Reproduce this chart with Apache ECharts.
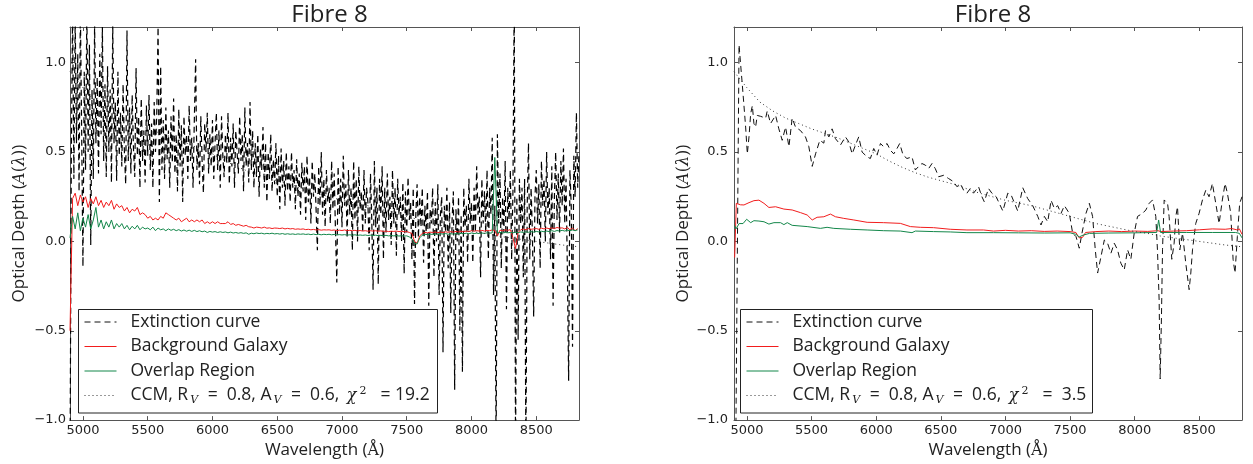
<!DOCTYPE html>
<html><head><meta charset="utf-8">
<script src="https://cdn.jsdelivr.net/npm/echarts@6/dist/echarts.min.js"></script>
<style>html,body{margin:0;padding:0;background:#fff}#c{width:1253px;height:464px}</style>
</head><body><div id="c"></div>
<script>
// ---------- data ----------
const xTicks = [5000, 5500, 6000, 6500, 7000, 7500, 8000, 8500];
const yTicks = [-1, -0.5, 0, 0.5, 1];
const waveMin = 4900, waveMax = 8830;

// left panel: extinction curve sampled every 10 A starting at 4900 A
const leftExtStart = 4900, leftExtStep = 10;
const leftExtinction = [
 -1.3,0.45,1.3,0.35,1.25,0.55,1.05,0.28,1.3,0.62,
 -0.14,0.95,0.4,1.3,0.5,1.1,-0.02,0.85,0.35,1.22,
 0.55,0.92,0.38,1.05,0.6,1.2,0.45,0.88,0.36,0.98,
 0.5,0.85,0.33,1.22,0.55,0.78,0.34,0.95,0.48,0.72,
 0.42,0.88,0.5,0.32,1.18,0.45,0.75,0.38,0.82,0.52,
 0.36,0.97,0.48,0.7,0.3,0.8,0.45,0.62,0.33,0.76,
 0.48,0.82,0.4,0.66,0.3,0.78,0.5,0.72,1.2,0.22,
 0.98,0.4,0.68,0.35,0.75,0.46,0.62,0.3,0.7,0.44,
 0.8,0.38,0.6,0.28,0.74,0.42,0.65,0.22,0.7,0.48,
 0.6,0.35,0.76,0.45,0.58,0.3,0.68,1.02,0.4,0.55,
 0.32,0.7,0.45,0.27,0.66,0.5,0.72,0.38,0.6,0.42,
 0.68,0.35,0.55,0.72,0.4,0.62,0.3,0.7,0.48,0.36,
 0.6,0.44,0.72,0.32,0.58,0.42,0.66,0.3,0.62,0.5,
 0.38,0.7,0.45,0.6,0.28,0.75,0.42,0.55,0.33,0.78,
 0.4,0.62,0.3,0.55,0.36,0.6,0.25,0.52,0.4,0.64,
 0.3,0.55,0.22,0.5,0.35,0.6,0.28,0.46,0.32,0.55,
 0.25,0.48,0.18,0.52,0.3,0.45,0.2,0.5,0.28,0.42,
 0.22,0.5,0.3,0.4,0.18,0.46,0.25,0.38,0.15,0.44,
 0.28,0.42,0.12,0.48,0.22,0.36,0.1,0.45,0.25,0.38,
 0.18,-0.05,0.42,0.2,0.5,0.15,0.35,0.08,0.4,0.22,
 0.3,0.1,0.45,0.18,0.38,0.05,-0.23,0.42,0.15,0.35,
 0.08,0.48,0.2,0.32,0.02,0.4,0.15,0.3,-0.05,0.45,
 0.12,0.35,0.0,0.42,0.18,0.28,0.05,0.4,0.1,0.3,
 0.22,-0.05,0.38,0.12,-0.27,0.45,0.08,0.3,-0.24,0.35,
 0.15,0.42,-0.1,0.3,0.05,0.38,0.12,0.25,-0.02,0.4,
 0.1,0.3,-0.08,0.35,0.15,0.25,0.0,0.33,-0.18,0.28,
 0.05,0.36,0.12,0.22,-0.1,0.3,-0.35,0.15,0.32,0.02,
 0.25,0.08,0.3,-0.12,0.2,0.05,0.28,-0.36,0.18,0.1,
 0.3,-0.2,0.22,0.0,0.32,-0.3,0.15,0.25,-0.62,0.2,
 0.05,0.3,-0.15,0.22,-0.4,0.12,0.28,-0.83,0.18,0.0,
 0.25,-0.5,0.15,-0.73,0.3,0.08,0.2,-0.12,0.35,0.1,
 0.22,-0.12,0.3,0.05,0.42,0.15,0.25,-0.2,0.35,0.1,
 0.28,0.05,0.4,-0.1,0.3,0.15,0.58,-0.3,0.2,-1.2,
 0.6,0.1,0.38,-0.15,0.25,0.05,0.45,-0.38,0.3,0.12,
 0.4,-0.1,0.28,1.4,-1.2,0.25,-0.55,0.35,0.1,0.3,
 -0.2,0.35,-1.2,0.2,0.55,-0.1,0.3,0.05,-0.42,0.25,
 0.4,0.1,0.32,-0.15,0.45,0.2,0.35,0.0,0.5,0.15,
 0.3,-0.1,0.42,-0.36,0.25,0.5,0.12,0.38,0.05,0.45,
 0.2,0.52,0.1,0.35,-0.15,-0.78,0.4,0.2,-0.59,0.48,
 0.25,0.72,0.3,0.5
];

// left panel: galaxy spectra sampled every 20 A starting at 4900 A
const leftGalStart = 4900, leftGalStep = 20;
const leftBackground = [
 -0.5,0.24,0.27,0.2,0.26,0.22,0.25,0.19,0.24,0.21,
 0.25,0.2,0.23,0.19,0.22,0.2,0.23,0.18,0.21,0.19,
 0.2,0.17,0.19,0.16,0.18,0.17,0.19,0.15,0.16,0.15,
 0.13,0.14,0.12,0.13,0.12,0.14,0.13,0.16,0.15,0.14,
 0.13,0.12,0.13,0.11,0.12,0.13,0.11,0.12,0.11,0.12,
 0.11,0.12,0.1,0.11,0.1,0.11,0.1,0.11,0.1,0.1,
 0.1,0.11,0.095,0.1,0.09,0.095,0.09,0.085,0.09,0.082,
 0.08,0.075,0.08,0.078,0.075,0.08,0.074,0.076,0.072,0.075,
 0.074,0.072,0.075,0.07,0.073,0.07,0.072,0.068,0.07,0.068,
 0.07,0.066,0.068,0.065,0.067,0.064,0.066,0.063,0.065,0.064,
 0.065,0.062,0.064,0.06,0.063,0.061,0.064,0.06,0.062,0.06,
 0.062,0.059,0.061,0.058,0.06,0.057,0.06,0.058,0.06,0.057,
 0.059,0.056,0.058,0.055,0.057,0.056,0.058,0.055,0.057,0.054,
 0.055,0.05,0.045,0.0,-0.01,0.03,0.045,0.05,0.048,0.052,
 0.05,0.053,0.049,0.052,0.05,0.054,0.051,0.055,0.052,0.056,
 0.053,0.057,0.054,0.058,0.055,0.06,0.057,0.06,0.058,0.062,
 0.058,0.062,0.06,0.064,0.06,0.03,0.063,0.06,0.065,0.062,
 0.066,0.02,-0.04,0.05,0.065,0.07,0.066,0.072,0.068,0.07,
 0.072,0.068,0.074,0.07,0.075,0.071,0.076,0.072,0.078,0.074,
 0.076,0.07,0.078,0.065,0.075,0.06,0.072
];
const leftOverlap = [
 0.02,0.14,0.07,0.16,0.06,0.13,0.08,0.15,0.07,0.12,
 0.19,0.08,0.12,0.07,0.11,0.08,0.12,0.07,0.1,0.08,
 0.1,0.07,0.09,0.065,0.085,0.07,0.09,0.065,0.08,0.07,
 0.075,0.065,0.08,0.06,0.075,0.065,0.07,0.06,0.07,0.062,
 0.068,0.06,0.066,0.058,0.064,0.057,0.063,0.056,0.062,0.055,
 0.06,0.054,0.058,0.05,0.056,0.052,0.055,0.05,0.054,0.05,
 0.053,0.048,0.052,0.047,0.05,0.046,0.049,0.045,0.048,0.04,
 0.046,0.043,0.047,0.044,0.046,0.042,0.045,0.043,0.046,0.042,
 0.044,0.041,0.044,0.04,0.043,0.04,0.042,0.039,0.042,0.04,
 0.042,0.039,0.041,0.038,0.041,0.038,0.04,0.037,0.04,0.038,
 0.04,0.037,0.039,0.036,0.038,0.036,0.038,0.035,0.037,0.035,
 0.037,0.034,0.036,0.034,0.036,0.033,0.035,0.033,0.035,0.032,
 0.034,0.032,0.034,0.031,0.033,0.031,0.033,0.03,0.032,0.03,
 0.031,0.025,0.015,-0.01,-0.015,0.02,0.035,0.04,0.038,0.041,
 0.039,0.042,0.04,0.043,0.041,0.044,0.04,0.043,0.041,0.044,
 0.042,0.045,0.043,0.046,0.043,0.047,0.044,0.046,0.044,0.047,
 0.045,0.048,0.046,0.048,0.47,0.047,0.05,0.047,0.05,0.048,
 0.05,0.048,0.052,0.049,0.053,0.05,0.054,0.051,0.055,0.052,
 0.056,0.053,0.057,0.054,0.058,0.055,0.06,0.056,0.061,0.058,
 0.062,0.058,0.063,0.06,0.064,0.06,0.065
];

// CCM model curve (R_V = 0.8, A_V = 0.6), both panels
const ccmWave = [4900,5000,5100,5200,5300,5400,5500,5600,5700,5800,5900,6000,6100,6200,6300,6400,6500,6600,6700,6800,6900,7000,7100,7200,7300,7400,7500,7600,7700,7800,7900,8000,8100,8200,8300,8400,8500,8600,8700,8830];
const ccmVal  = [0.95,0.86,0.78,0.73,0.69,0.66,0.63,0.605,0.58,0.55,0.52,0.49,0.45,0.415,0.385,0.36,0.34,0.32,0.295,0.27,0.25,0.23,0.215,0.2,0.18,0.16,0.14,0.12,0.1,0.085,0.07,0.055,0.045,0.03,0.02,0.01,0.0,-0.01,-0.02,-0.03];

// right panel: binned extinction curve
const rightExtWave = [4912,4939,4957,4964,4977,4990,5003,5016,5029,5042,5054,5067,5080,5106,5145,5157,5183,5222,5247,5273,5299,5325,5350,5376,5415,5453,5479,5505,5531,5564,5595,5608,5634,5659,5685,5724,5762,5788,5814,5840,5865,5891,5930,5955,5981,6007,6033,6058,6084,6110,6136,6161,6182,6208,6238,6277,6303,6329,6354,6380,6406,6432,6457,6483,6522,6560,6599,6625,6650,6676,6702,6728,6753,6792,6818,6836,6869,6895,6928,6980,7018,7044,7095,7134,7172,7211,7250,7275,7301,7327,7353,7378,7404,7430,7456,7494,7520,7546,7571,7592,7623,7649,7674,7695,7713,7739,7765,7790,7816,7842,7867,7893,7919,7945,7970,7996,8022,8061,8086,8112,8138,8163,8176,8189,8197,8207,8215,8228,8254,8266,8287,8305,8318,8331,8349,8370,8395,8421,8434,8447,8472,8498,8524,8550,8575,8601,8627,8653,8678,8699,8717,8743,8761,8776,8794,8812,8830];
const rightExtVal = [-1.3,1.1,0.94,0.88,0.76,0.64,0.49,0.585,0.715,0.76,0.66,0.64,0.705,0.7,0.69,0.73,0.66,0.705,0.63,0.566,0.64,0.53,0.69,0.64,0.62,0.585,0.53,0.42,0.49,0.566,0.55,0.62,0.585,0.63,0.575,0.54,0.585,0.557,0.49,0.54,0.585,0.5,0.473,0.464,0.52,0.483,0.548,0.53,0.548,0.51,0.49,0.52,0.548,0.483,0.464,0.473,0.4,0.42,0.436,0.427,0.408,0.436,0.408,0.362,0.37,0.352,0.334,0.306,0.324,0.287,0.27,0.296,0.27,0.306,0.25,0.222,0.296,0.27,0.25,0.17,0.27,0.26,0.17,0.3,0.24,0.2,0.14,0.092,0.14,0.11,0.23,0.185,0.2,0.157,0.2,0.157,0.046,0.027,-0.038,0.046,0.157,0.213,0.14,-0.047,-0.177,-0.085,0.008,-0.01,-0.066,-0.01,-0.047,-0.122,-0.159,-0.047,-0.1,0.046,0.14,0.157,0.176,0.213,0.232,0.14,-0.047,-0.33,-0.77,-0.42,-0.047,0.232,0.213,0.14,-0.1,-0.01,0.14,0.194,-0.047,0.046,-0.122,-0.27,-0.177,-0.047,0.1,0.157,0.232,0.287,0.25,0.324,0.213,0.1,0.232,0.324,0.27,0.157,-0.1,-0.177,0.027,0.213,0.25];

const rightBgWave = [4905,4918,4950,4977,5016,5054,5093,5132,5170,5222,5286,5350,5415,5466,5505,5543,5595,5646,5685,5749,5827,5930,6058,6187,6264,6341,6444,6573,6702,6830,6908,7000,7100,7200,7300,7400,7500,7545,7570,7597,7620,7700,7800,7900,8000,8100,8180,8200,8300,8400,8500,8600,8700,8750,8790,8810,8830];
const rightBgVal  = [-0.09,0.213,0.205,0.204,0.217,0.228,0.231,0.213,0.19,0.194,0.181,0.176,0.161,0.148,0.12,0.135,0.138,0.153,0.138,0.129,0.12,0.107,0.105,0.101,0.083,0.079,0.077,0.068,0.064,0.064,0.058,0.062,0.058,0.06,0.056,0.058,0.055,0.05,0.02,0.023,0.05,0.055,0.058,0.055,0.058,0.056,0.06,0.055,0.058,0.06,0.065,0.07,0.068,0.072,0.065,0.07,0.04];
const rightOvWave = [4905,4915,4940,4970,4998,5029,5054,5093,5132,5170,5209,5260,5286,5312,5350,5466,5569,5620,5672,5801,5930,6058,6187,6277,6303,6444,6573,6702,6908,7100,7300,7500,7545,7570,7600,7650,7800,8000,8170,8185,8200,8400,8600,8780,8810,8830];
const rightOvVal  = [0.09,0.07,0.1,0.1,0.124,0.105,0.116,0.114,0.11,0.097,0.105,0.105,0.094,0.105,0.09,0.083,0.073,0.079,0.073,0.068,0.064,0.06,0.058,0.049,0.058,0.055,0.053,0.049,0.049,0.048,0.047,0.048,0.04,0.025,0.035,0.045,0.047,0.048,0.05,0.12,0.05,0.05,0.05,0.05,0.045,0.02];

const titleText = 'Fibre 8';
const legendLabels = ['Extinction curve', 'Background Galaxy', 'Overlap Region'];
const chiLeft = '19.2', chiRight = ' 3.5';

// ---------- helpers ----------
const uniformPairs = (start, step, vals) => vals.map((v, i) => [start + i * step, v]);
const zipPairs = (xs, ys) => xs.map((x, i) => [x, ys[i]]);

const BLACK = '#000', RED = '#f21d1d', GREEN = '#13874a', FRAME = '#555';
const SANS = '"Open Sans", "DejaVu Sans", sans-serif';
const TICKFONT = '"DejaVu Sans", sans-serif';
const SERIF = '"DejaVu Serif", serif';

const grids = [
  { left: 70, top: 27, width: 509, height: 394 },
  { left: 734, top: 27, width: 508, height: 394 }
];

const fmtY = v => (v < 0 ? '\u2212' : '') + Math.abs(v).toFixed(1);
const fmtX = v => String(Math.round(v));

const xAxes = [], yAxes = [];
grids.forEach((g, gi) => {
  const base = {
    gridIndex: gi, type: 'value', min: waveMin, max: waveMax,
    axisLine: { show: true, onZero: false, lineStyle: { color: FRAME, width: 1 } },
    splitLine: { show: false }
  };
  xAxes.push(Object.assign({}, base, {
    position: 'bottom',
    axisTick: { show: true, inside: true, length: 4, customValues: xTicks, lineStyle: { color: FRAME } },
    axisLabel: { show: true, customValues: xTicks, formatter: fmtX, color: '#222', fontSize: 13, fontFamily: TICKFONT, margin: 4 },
    name: '{t|Wavelength (}{m|Å}{t|)}', nameLocation: 'middle', nameGap: 20,
    nameTextStyle: { rich: {
      t: { fontFamily: SANS, fontSize: 17, color: '#222' },
      m: { fontFamily: SERIF, fontSize: 16, color: '#222' } } }
  }));
  xAxes.push(Object.assign({}, base, {
    position: 'top',
    axisTick: { show: true, inside: true, length: 4, customValues: xTicks, lineStyle: { color: FRAME } },
    axisLabel: { show: false, customValues: xTicks }
  }));
  const ybase = {
    gridIndex: gi, type: 'value', min: -1, max: 1.2,
    axisLine: { show: true, onZero: false, lineStyle: { color: FRAME, width: 1 } },
    splitLine: { show: false }
  };
  yAxes.push(Object.assign({}, ybase, {
    position: 'left',
    axisTick: { show: true, inside: true, length: 4, customValues: yTicks, lineStyle: { color: FRAME } },
    axisLabel: { show: true, customValues: yTicks, formatter: fmtY, color: '#222', fontSize: 13, fontFamily: TICKFONT, margin: gi === 0 ? 4 : 6 },
    name: '{t|Optical Depth (}{m|A}{u|(}{m|λ}{u|)}{t|)}', nameLocation: 'middle', nameGap: 42, nameRotate: 90,
    nameTextStyle: { rich: {
      t: { fontFamily: SANS, fontSize: 17, color: '#222' },
      m: { fontFamily: SERIF, fontStyle: 'italic', fontSize: 16, color: '#222' },
      u: { fontFamily: SERIF, fontSize: 16, color: '#222' } } }
  }));
  yAxes.push(Object.assign({}, ybase, {
    position: 'right',
    axisTick: { show: true, inside: true, length: 4, customValues: yTicks, lineStyle: { color: FRAME } },
    axisLabel: { show: false, customValues: yTicks }
  }));
});

const mkLine = (gi, name, data, color, type, width) => ({
  type: 'line', name, xAxisIndex: gi * 2, yAxisIndex: gi * 2, data,
  showSymbol: false, symbol: 'none', clip: true, silent: true, animation: false,
  lineStyle: { color, width, type }
});

const series = [
  mkLine(0, 'Extinction curve', uniformPairs(leftExtStart, leftExtStep, leftExtinction), BLACK, [6, 4], 1.2),
  mkLine(0, 'Background Galaxy', uniformPairs(leftGalStart, leftGalStep, leftBackground), RED, 'solid', 1),
  mkLine(0, 'Overlap Region', uniformPairs(leftGalStart, leftGalStep, leftOverlap), GREEN, 'solid', 1),
  mkLine(0, 'CCM', zipPairs(ccmWave, ccmVal), '#333', [1, 3], 1),
  mkLine(1, 'Extinction curve', zipPairs(rightExtWave, rightExtVal), '#111', [6, 4], 1),
  mkLine(1, 'Background Galaxy', zipPairs(rightBgWave, rightBgVal), RED, 'solid', 1),
  mkLine(1, 'Overlap Region', zipPairs(rightOvWave, rightOvVal), GREEN, 'solid', 1),
  mkLine(1, 'CCM', zipPairs(ccmWave, ccmVal), '#333', [1, 3], 1)
];

// legend boxes drawn as graphics
function legendBox(x0, w, chi) {
  const rowsY = [322, 346.5, 371, 395.5];
  const els = [{
    type: 'rect', shape: { x: x0 + 0.5, y: 309.5, width: w, height: 103.5 },
    style: { fill: '#fff', stroke: '#222', lineWidth: 1 }, z: 50
  }];
  const styles = [
    { stroke: '#111', lineDash: [6, 4] }, { stroke: RED }, { stroke: GREEN }, { stroke: '#333', lineDash: [1, 3] }
  ];
  rowsY.forEach((y, i) => {
    els.push({ type: 'line', shape: { x1: x0 + 6.5, y1: y, x2: x0 + 38.5, y2: y },
      style: Object.assign({ lineWidth: 1 }, styles[i]), z: 51 });
  });
  legendLabels.forEach((t, i) => {
    els.push({ type: 'text', x: x0 + 52.5, y: rowsY[i], z: 51,
      style: { text: t, fill: '#222', font: '17.5px ' + SANS, verticalAlign: 'middle' } });
  });
  els.push({ type: 'text', x: x0 + 52.5, y: rowsY[3], z: 51,
    style: {
      text: '{t|CCM, R}{s|V}{t| =  0.8, A}{s|V}{t| =  0.6, }{g|χ}{p|2}{t|  = ' + chi + '}',
      verticalAlign: 'middle',
      rich: {
        t: { fontFamily: SANS, fontSize: 17.5, fill: '#222', lineHeight: 24, verticalAlign: 'middle' },
        s: { fontFamily: SERIF, fontStyle: 'italic', fontSize: 11, fill: '#222', lineHeight: 24, verticalAlign: 'bottom', padding: [0, 5, 2, 2] },
        g: { fontFamily: SERIF, fontStyle: 'italic', fontSize: 16, fill: '#222', lineHeight: 24, verticalAlign: 'middle', padding: [0, 2, 0, 3] },
        p: { fontFamily: SERIF, fontSize: 11, fill: '#222', lineHeight: 24, verticalAlign: 'top', padding: [2, 5, 0, 1] }
      }
    } });
  return els;
}

const option = {
  backgroundColor: '#fff',
  animation: false,
  title: [
    { text: titleText, left: 324.5, top: -2, textAlign: 'center', textStyle: { fontFamily: SANS, fontSize: 24, fontWeight: 'normal', color: '#222' } },
    { text: titleText, left: 988, top: -2, textAlign: 'center', textStyle: { fontFamily: SANS, fontSize: 24, fontWeight: 'normal', color: '#222' } }
  ],
  grid: grids,
  xAxis: xAxes,
  yAxis: yAxes,
  series,
  graphic: { elements: legendBox(78, 359, chiLeft).concat(legendBox(740, 352, chiRight)) }
};

const chart = echarts.init(document.getElementById('c'), null, { renderer: 'canvas' });
chart.setOption(option);
</script></body></html>
